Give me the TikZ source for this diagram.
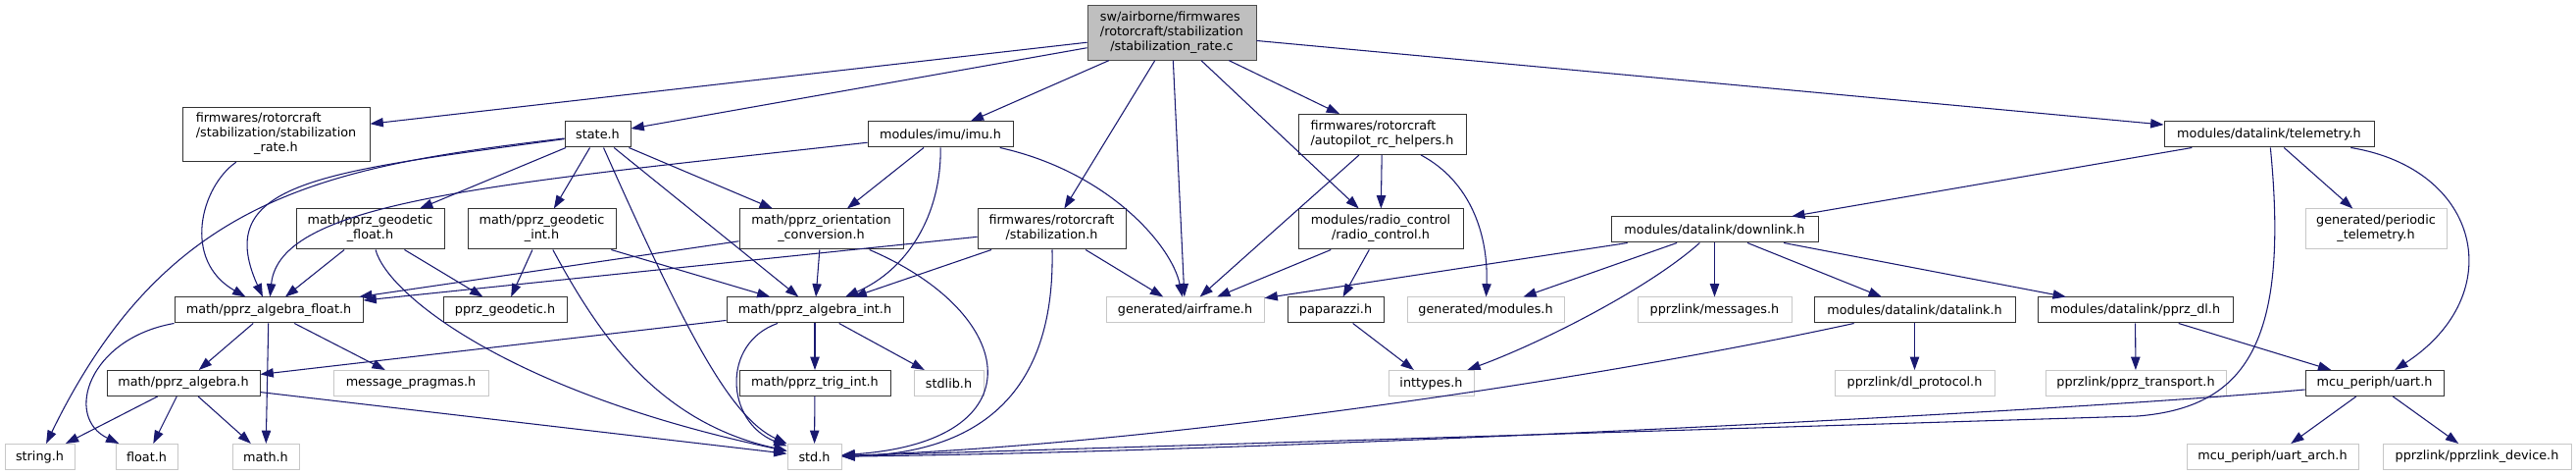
\documentclass[tikz,border=0pt]{standalone}
\usepackage{fontspec}
\setmainfont{DejaVu Sans}
\usetikzlibrary{arrows.meta}
\definecolor{edgeblue}{HTML}{191970}
% doxygen-like label: left lines, last line centred
\newcommand{\lbl}[2]{\begin{tabular}{@{}l@{}}#1\\\multicolumn{1}{@{}c@{}}{#2}\end{tabular}}
\tikzset{%
  % header boxes
  hdr/.style={draw=black!80, line width=0.75pt, fill=white, inner sep=1pt,
    minimum height=19.5pt, font={\fontsize{9.6}{11.25}\selectfont}},
  sys/.style={hdr, draw=black!22},
  src/.style={hdr, draw=black!70, fill=black!25},
  two/.style={minimum height=30.75pt},
  three/.style={minimum height=41.5pt},
  wd/.style={minimum width=#1*0.75pt},
  % include edges
  inc/.style={-{Triangle[length=10pt, width=7pt]}, color=edgeblue, line width=0.8pt},
}

\begin{document}
\begin{tikzpicture}[x=0.75pt, y=0.75pt]
  \path[use as bounding box, fill=white] (0,0) rectangle (2627,-484);

  % top
  \node[src, three, wd=172] (root) at (1195,-33.5)
    {\lbl{sw/airborne/firmwares\\/rotorcraft/stabilization}{/stabilization\_rate.c}};

  % level 1
  \node[hdr, three, wd=191] (srate) at (281.5,-137)
    {\lbl{firmwares/rotorcraft\\/stabilization/stabilization}{\_rate.h}};
  \node[hdr, wd=67] (state) at (609.5,-137) {state.h};
  \node[hdr, wd=148] (imu) at (959,-137) {modules/imu/imu.h};
  \node[hdr, two, wd=171] (aprc) at (1409.5,-137)
    {\lbl{firmwares/rotorcraft}{/autopilot\_rc\_helpers.h}};
  \node[hdr, wd=214] (telem) at (2314,-137) {modules/datalink/telemetry.h};

  % level 2
  \node[hdr, two, wd=151] (gfloat) at (377.5,-233.5) {\lbl{math/pprz\_geodetic}{\_float.h}};
  \node[hdr, two, wd=151] (gint) at (552.5,-233.5) {\lbl{math/pprz\_geodetic}{\_int.h}};
  \node[hdr, two, wd=167] (orient) at (837.5,-233.5) {\lbl{math/pprz\_orientation}{\_conversion.h}};
  \node[hdr, two, wd=151] (stab) at (1072.5,-233.5) {\lbl{firmwares/rotorcraft}{/stabilization.h}};
  \node[hdr, two, wd=168] (rc) at (1408,-233.5) {\lbl{modules/radio\_control}{/radio\_control.h}};
  \node[hdr, wd=211] (downlink) at (1748.5,-234) {modules/datalink/downlink.h};
  \node[sys, two, wd=144] (ptelem) at (2423,-233.5) {\lbl{generated/periodic}{\_telemetry.h}};

  % level 3
  \node[hdr, wd=192] (af) at (274,-316) {math/pprz\_algebra\_float.h};
  \node[hdr, wd=126] (geod) at (515,-316) {pprz\_geodetic.h};
  \node[hdr, wd=180] (aint) at (831,-316) {math/pprz\_algebra\_int.h};
  \node[sys, wd=161] (airframe) at (1208.5,-316) {generated/airframe.h};
  \node[hdr, wd=98] (pprzh) at (1362,-316) {paparazzi.h};
  \node[sys, wd=160] (gmod) at (1515,-316) {generated/modules.h};
  \node[sys, wd=157] (msgs) at (1748.5,-316) {pprzlink/messages.h};
  \node[hdr, wd=205] (dlink) at (1952.5,-316) {modules/datalink/datalink.h};
  \node[hdr, wd=199] (pdl) at (2177.5,-316) {modules/datalink/pprz\_dl.h};

  % level 4
  \node[hdr, wd=156] (alg) at (187,-390.5) {math/pprz\_algebra.h};
  \node[sys, wd=158] (pragmas) at (419,-390.5) {message\_pragmas.h};
  \node[hdr, wd=154] (trig) at (831,-390.5) {math/pprz\_trig\_int.h};
  \node[sys, wd=71] (stdlib) at (967.5,-390.5) {stdlib.h};
  \node[sys, wd=87] (inttypes) at (1459.5,-390.5) {inttypes.h};
  \node[sys, wd=163] (dlproto) at (1952.5,-390.5) {pprzlink/dl\_protocol.h};
  \node[sys, wd=184] (ptrans) at (2178,-390.5) {pprzlink/pprz\_transport.h};
  \node[hdr, wd=141] (uart) at (2421.5,-390.5) {mcu\_periph/uart.h};

  % level 5
  \node[sys, wd=71] (string) at (40.5,-465.5) {string.h};
  \node[sys, wd=63] (float) at (149.5,-465.5) {float.h};
  \node[sys, wd=68] (math) at (271,-465.5) {math.h};
  \node[sys, wd=55] (std) at (830.5,-465.5) {std.h};
  \node[sys, wd=175] (uarch) at (2317.5,-465.5) {mcu\_periph/uart\_arch.h};
  \node[sys, wd=192] (pdev) at (2526,-465.5) {pprzlink/pprzlink\_device.h};

  % edges
  \draw[inc] (root) -- (srate);
  \draw[inc] (root) -- (state);
  \draw[inc] (root) -- (imu);
  \draw[inc] (root) -- (stab);
  \draw[inc] (root) -- (airframe);
  \draw[inc] (root) -- (aprc);
  \draw[inc] (root) -- (rc);
  \draw[inc] (root) -- (telem);

  \draw[inc] (srate) .. controls (205,-190) and (185,-265) .. (af);

  \draw[inc] (state) -- (gfloat);
  \draw[inc] (state) -- (gint);
  \draw[inc] (state) -- (aint);
  \draw[inc] (state) -- (orient);
  \draw[inc] (state) .. controls (700,-340) and (745,-425) .. (std);
  \draw[inc] (state) .. controls (330,-175) and (215,-185) .. (af);
  \draw[inc] (state) .. controls (330,-170) and (170,-200) .. (string);

  \draw[inc] (imu) -- (orient);
  \draw[inc] (imu) .. controls (960,-220) and (925,-275) .. (aint);
  \draw[inc] (imu) .. controls (500,-188) and (285,-205) .. (af);
  \draw[inc] (imu) .. controls (1130,-175) and (1195,-250) .. (airframe);

  \draw[inc] (gfloat) -- (af);
  \draw[inc] (gfloat) -- (geod);
  \draw[inc] (gfloat) .. controls (395,-300) and (520,-400) .. (std);

  \draw[inc] (gint) -- (geod);
  \draw[inc] (gint) -- (aint);
  \draw[inc] (gint) .. controls (610,-340) and (670,-430) .. (std);

  \draw[inc] (orient) -- (af);
  \draw[inc] (orient) -- (aint);
  \draw[inc] (orient) .. controls (1040,-320) and (1060,-450) .. (std);

  \draw[inc] (stab) -- (af);
  \draw[inc] (stab) -- (aint);
  \draw[inc] (stab) -- (airframe);
  \draw[inc] (stab) .. controls (1076,-390) and (1010,-462) .. (std);

  \draw[inc] (aprc) -- (rc);
  \draw[inc] (aprc) -- (airframe);
  \draw[inc] (aprc) .. controls (1500,-185) and (1518,-240) .. (gmod);

  \draw[inc] (rc) -- (pprzh);
  \draw[inc] (rc) -- (airframe);
  \draw[inc] (pprzh) -- (inttypes);

  \draw[inc] (downlink) -- (airframe);
  \draw[inc] (downlink) -- (gmod);
  \draw[inc] (downlink) .. controls (1680,-295) and (1570,-350) .. (inttypes);
  \draw[inc] (downlink) -- (msgs);
  \draw[inc] (downlink) -- (dlink);
  \draw[inc] (downlink) -- (pdl);

  \draw[inc] (telem) -- (downlink);
  \draw[inc] (telem) -- (ptelem);
  \draw[inc] (telem) .. controls (2530,-172) and (2560,-300) .. (uart);
  \draw[inc] (telem) .. controls (2335,-350) and (2290,-415) .. (2180,-424) -- (std);

  \draw[inc] (dlink) -- (dlproto);
  \draw[inc] (dlink) .. controls (1650,-382) and (1200,-452) .. (std);
  \draw[inc] (pdl) -- (ptrans);
  \draw[inc] (pdl) -- (uart);

  \draw[inc] (uart) -- (uarch);
  \draw[inc] (uart) -- (pdev);
  \draw[inc] (uart) .. controls (2100,-420) and (1300,-460) .. (std);

  \draw[inc] (af) -- (alg);
  \draw[inc] (af) -- (math);
  \draw[inc] (af) -- (pragmas);
  \draw[inc] (af.south west) .. controls (90,-345) and (65,-425) .. (float);

  \draw[inc] (alg) -- (string);
  \draw[inc] (alg) -- (float);
  \draw[inc] (alg) -- (math);
  \draw[inc] (alg) -- (std);

  \draw[inc] (aint) -- (alg);
  \draw[inc] (aint) -- (trig);
  \draw[inc] (aint) -- (stdlib);
  \draw[inc] (aint) .. controls (735,-350) and (740,-430) .. (std);
  \draw[inc] (trig) -- (std);
\end{tikzpicture}
\end{document}
